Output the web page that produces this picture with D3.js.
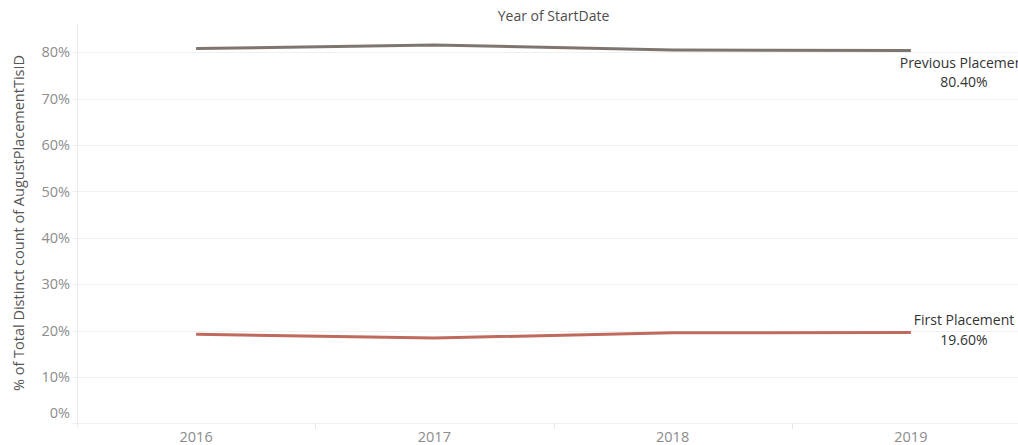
<!DOCTYPE html>
<html>
<head>
<meta charset="utf-8">
<script src="https://cdn.jsdelivr.net/npm/d3@7"></script>
<style>
  body { margin: 0; background: #fff; }
  text { font-family: "Open Sans", "Noto Sans", sans-serif; }
</style>
</head>
<body>
<div id="chart-area"></div>
<script>
var years = ["2016", "2017", "2018", "2019"];
var previousPlacement = [80.8, 81.6, 80.5, 80.4];
var firstPlacement = [19.2, 18.4, 19.5, 19.6];
var yTicks = [0, 10, 20, 30, 40, 50, 60, 70, 80];

var width = 1018;
var height = 445;
var margin = { top: 0, right: 0, bottom: 0, left: 77 };
var plotRight = 1030;

var svg = d3.select("#chart-area")
  .append("svg")
  .attr("width", width)
  .attr("height", height);

var x = d3.scaleBand()
  .domain(years)
  .range([margin.left, plotRight]);

var y = d3.scaleLinear()
  .domain([0, 80])
  .range([423.3, 52.3]);

// gridlines
svg.append("g")
  .selectAll("line")
  .data(yTicks).enter()
  .append("line")
  .attr("x1", 72)
  .attr("x2", width)
  .attr("y1", d => Math.round(y(d)) + 0.5)
  .attr("y2", d => Math.round(y(d)) + 0.5)
  .attr("stroke", "#f0f0f0")
  .attr("stroke-width", 1);

// left border of pane
svg.append("line")
  .attr("x1", margin.left + 0.5)
  .attr("x2", margin.left + 0.5)
  .attr("y1", 24)
  .attr("y2", 428)
  .attr("stroke", "#ececec");

// column separator ticks
svg.append("g")
  .selectAll("line")
  .data(years.slice(1)).enter()
  .append("line")
  .attr("x1", d => Math.round(x(d)) + 0.5)
  .attr("x2", d => Math.round(x(d)) + 0.5)
  .attr("y1", 423)
  .attr("y2", 429)
  .attr("stroke", "#e6e6e6");

// y tick labels
svg.append("g")
  .selectAll("text")
  .data(yTicks).enter()
  .append("text")
  .attr("x", 70)
  .attr("y", d => d === 0 ? y(d) - 10 : y(d))
  .attr("dy", "0.35em")
  .attr("text-anchor", "end")
  .attr("font-size", "14.5px")
  .attr("fill", "#8c8c8c")
  .text(d => d + "%");

// x tick labels
svg.append("g")
  .selectAll("text")
  .data(years).enter()
  .append("text")
  .attr("x", d => x(d) + x.bandwidth() / 2)
  .attr("y", 437)
  .attr("dy", "0.35em")
  .attr("text-anchor", "middle")
  .attr("font-size", "14.5px")
  .attr("fill", "#8c8c8c")
  .text(d => d);

// titles
svg.append("text")
  .attr("x", (margin.left + plotRight) / 2)
  .attr("y", 16)
  .attr("dy", "0.35em")
  .attr("text-anchor", "middle")
  .attr("font-size", "14px")
  .attr("fill", "#4d4d4d")
  .text("Year of StartDate");

svg.append("text")
  .attr("transform", "translate(19, 223) rotate(-90)")
  .attr("dy", "0.35em")
  .attr("text-anchor", "middle")
  .attr("font-size", "14.5px")
  .attr("fill", "#555")
  .text("% of Total Distinct count of AugustPlacementTisID");

// lines
var series = [
  { name: "Previous Placement", values: previousPlacement, color: "#7e756e" },
  { name: "First Placement", values: firstPlacement, color: "#bf6a5d" }
];

var line = d3.line()
  .x((d, i) => x(years[i]) + x.bandwidth() / 2)
  .y(d => y(d));

svg.append("g")
  .selectAll("path")
  .data(series).enter()
  .append("path")
  .attr("d", d => line(d.values))
  .attr("fill", "none")
  .attr("stroke", d => d.color)
  .attr("stroke-width", 3);

// end labels
var labels = svg.append("g")
  .selectAll("text")
  .data(series).enter()
  .append("text")
  .attr("text-anchor", "middle")
  .attr("font-size", "14px")
  .attr("fill", "#333");

labels.append("tspan")
  .attr("x", 964)
  .attr("y", d => y(d.values[3]) + (d.name === "First Placement" ? -12 : 13))
  .attr("dy", "0.35em")
  .text(d => d.name);

labels.append("tspan")
  .attr("x", 964)
  .attr("y", d => y(d.values[3]) + (d.name === "First Placement" ? 8 : 32))
  .attr("dy", "0.35em")
  .text(d => d.values[3].toFixed(2) + "%");
</script>
</body>
</html>
